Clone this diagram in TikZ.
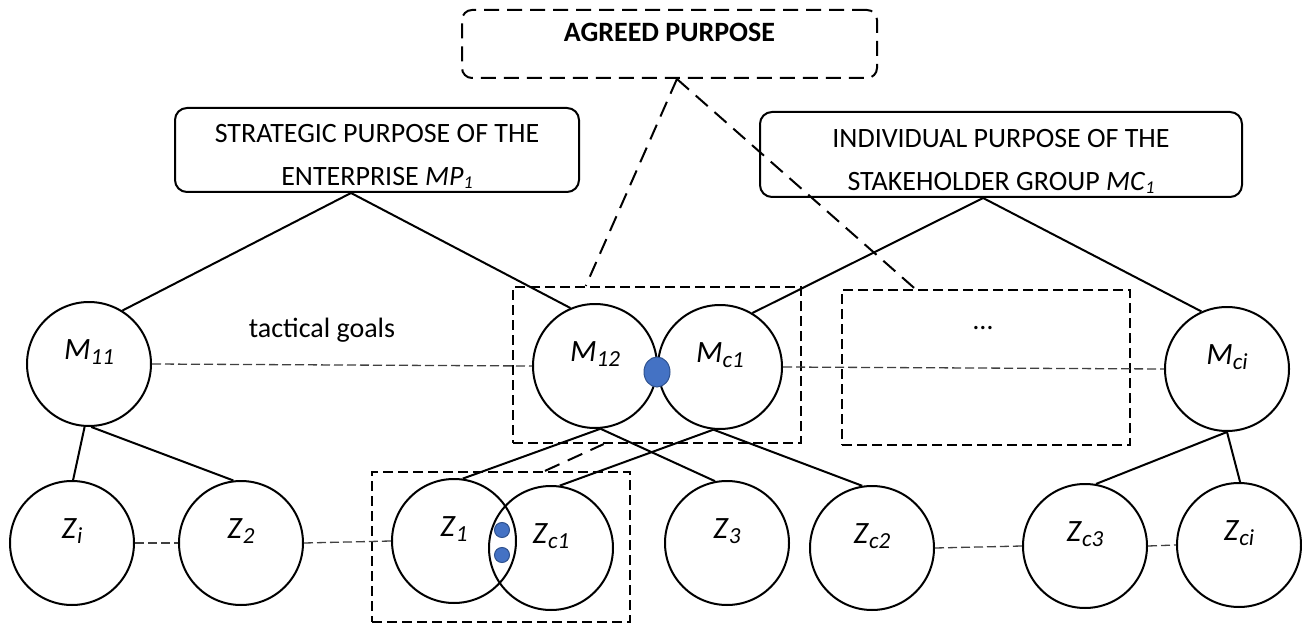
\documentclass[tikz,border=0pt]{standalone}
\usepackage{fontspec}
\setmainfont{Carlito}
\usetikzlibrary{calc,shapes.geometric}
\definecolor{dotblue}{HTML}{4472C4}
\definecolor{dotedge}{HTML}{2F528F}
\definecolor{thindash}{HTML}{404040}
\newcommand{\clab}[2]{\textit{#1}\raisebox{-5pt}{\fontsize{23}{23}\selectfont\itshape #2}}
\newcommand{\bsub}[2]{\textit{#1}\raisebox{-3pt}{\fontsize{18}{18}\selectfont\itshape #2}}
\begin{document}
\begin{tikzpicture}[x=1pt,y=-1pt,
  circ/.style={circle, draw, line width=2pt, minimum size=124pt, inner sep=0pt,
    text height=20pt, text depth=30pt, font=\fontsize{31}{31}\selectfont},
  pbox/.style={draw, line width=2pt, rounded corners=12pt, align=center,
    inner sep=0pt, font=\fontsize{28}{43}\selectfont},
  grp/.style={draw, line width=2.2pt, dash pattern=on 10pt off 5pt, inner sep=0pt},
  conn/.style={line width=2pt},
  thin/.style={line width=1.3pt, thindash, dash pattern=on 9pt off 4pt},
  thick/.style={line width=2pt, dash pattern=on 16pt off 9pt},
  blob/.style={fill=dotblue, draw=dotedge, line width=1pt, inner sep=0pt},
  plain/.style={inner sep=0pt, font=\fontsize{28}{34}\selectfont}]
\useasboundingbox (0,0) rectangle (1302,623);
\fill[white] (0,0) rectangle (1302,623);

% top boxes
\node[draw, line width=2pt, dash pattern=on 15pt off 8pt, rounded corners=10pt,
  minimum width=415pt, inner xsep=0pt, inner ysep=8pt, text height=24pt, text depth=28pt,
  font=\fontsize{28}{34}\selectfont\bfseries, anchor=base] (ap) at (669.5,42) {AGREED PURPOSE};
\node[pbox, minimum width=404pt, minimum height=84pt] (sp) at (377,150)
  {\rule{0pt}{31pt}STRATEGIC PURPOSE OF THE\\ENTERPRISE \bsub{MP}{1}};
\node[pbox, minimum width=482pt, minimum height=85pt] (ip) at (1001,154.5)
  {\rule{0pt}{31pt}INDIVIDUAL PURPOSE OF THE\\STAKEHOLDER GROUP \bsub{MC}{1}};

% group rectangles
\node[grp, minimum width=288pt, minimum height=156pt] (mrect) at (657,365) {};
\node[grp, minimum width=288pt, minimum height=155pt] (drect) at (986,367.5) {};
\node[grp, minimum width=258pt, minimum height=150pt] (zrect) at (501,547) {};
\node[plain, anchor=base] (dots) at (983,329) {…};
\node[plain, anchor=base] (tg) at (322,337) {tactical goals};

% M level
\node[circ] (M11) at (89,364) {\clab{M}{11}};
\node[circ] (M12) at (595,366) {\clab{M}{12}};
\node[circ] (Mc1) at (720,367) {\clab{M}{c1}};
\node[circ] (Mci) at (1227,369) {\clab{M}{ci}};

% Z level
\node[circ] (Zi) at (72,543) {\clab{Z}{i}};
\node[circ] (Z2) at (241,543) {\clab{Z}{2}};
\node[circ] (Z1) at (454,541) {\clab{Z}{1}};
\node[circ] (Zc1) at (551,548) {\clab{Z}{c1}};
\node[circ] (Z3) at (727,543) {\clab{Z}{3}};
\node[circ] (Zc2) at (872,548) {\clab{Z}{c2}};
\node[circ] (Zc3) at (1085,546) {\clab{Z}{c3}};
\node[circ] (Zci) at (1239,545) {\clab{Z}{ci}};

% solid connectors
\coordinate (spA) at ($(sp.south west)!0.436!(sp.south east)$);
\coordinate (ipA) at ($(ip.south west)!0.463!(ip.south east)$);
\draw[conn] (spA) -- (M11.58);
\draw[conn] (spA) -- (M12.113);
\draw[conn] (ipA) -- (Mc1.59);
\draw[conn] (ipA) -- (Mci.114);
\draw[conn] (M11.266) -- (Zi.89);
\draw[conn] (M11.272) -- (Z2.97);
\draw[conn] (M12.275) -- (Z1.82);
\draw[conn] (M12.275) -- (Z3.101);
\draw[conn] (Mc1.264) -- (Zc1.82);
\draw[conn] (Mc1.264) -- (Zc2.99);
\draw[conn] (Mci.270) -- (Zc3.80);
\draw[conn] (Mci.270) -- (Zci.89);

% thin dashed links
\draw[thin] (M11.east) -- (M12.west);
\draw[thin] (Mc1.east) -- (Mci.west);
\draw[thin] (Zi.east) -- (Z2.west);
\draw[thin] (Z2.east) -- (Z1.west);
\draw[thin] (Zc2.east) -- (Zc3.west);
\draw[thin] (Zc3.east) -- (Zci.west);

% thick dashed links
\draw[thick] (ap.282) -- (mrect.132);
\draw[thick] (ap.282) -- (drect.132);
\draw[thick] (zrect.60) -- (mrect.236);

% blue dots
\node[blob, ellipse, minimum width=26pt, minimum height=30pt] (b0) at (657,372) {};
\node[blob, circle, minimum size=15pt] (b1) at (502,530) {};
\node[blob, circle, minimum size=15pt] (b2) at (502,555) {};
\end{tikzpicture}
\end{document}
